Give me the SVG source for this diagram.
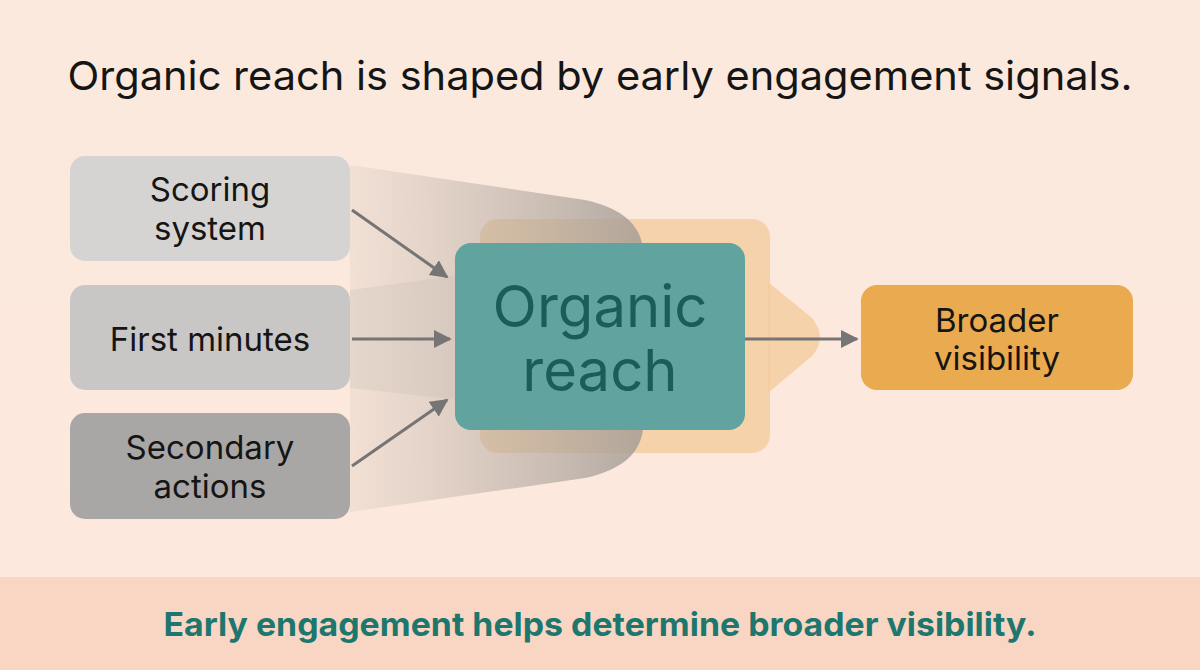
<svg xmlns="http://www.w3.org/2000/svg" width="1200" height="670" viewBox="0 0 1200 670">
<defs>
<linearGradient id="bg" x1="0" y1="0" x2="0" y2="1">
<stop offset="0" stop-color="#fbe9dd"/>
<stop offset="1" stop-color="#fde8dc"/>
</linearGradient>
<linearGradient id="funnel" x1="350" y1="0" x2="645" y2="0" gradientUnits="userSpaceOnUse">
<stop offset="0" stop-color="#b8aea6" stop-opacity="0.15"/>
<stop offset="1" stop-color="#a59d96" stop-opacity="0.85"/>
</linearGradient>
<linearGradient id="band" x1="350" y1="0" x2="460" y2="0" gradientUnits="userSpaceOnUse">
<stop offset="0" stop-color="#c9c1ba" stop-opacity="0.5"/>
<stop offset="1" stop-color="#b9b0a8" stop-opacity="0.3"/>
</linearGradient>
<marker id="ah" viewBox="0 0 10 10" refX="9" refY="5" markerWidth="6" markerHeight="6" markerUnits="strokeWidth" orient="auto">
<path d="M0,0 L10,5 L0,10 Z" fill="#767474"/>
</marker>
<style>
.lbl{font-family:Inter,"Noto Sans","Liberation Sans",sans-serif;fill:#151515;text-anchor:middle}
.conn{stroke:#767474;stroke-width:3;fill:none;marker-end:url(#ah)}
</style>
</defs>
<rect x="0" y="0" width="1200" height="670" fill="url(#bg)"/>
<rect x="0" y="577" width="1200" height="93" fill="#f8d6c3"/>
<text x="600" y="90" class="lbl" font-size="40" textLength="1065" lengthAdjust="spacingAndGlyphs">Organic reach is shaped by early engagement signals.</text>

<g id="backdrop">
<rect x="480" y="219" width="290" height="234" rx="18" fill="#f4cc9f" opacity="0.8"/>
<path d="M768,282 L812,318 Q828,338 812,356 L768,393 Z" fill="#f4cc9f" opacity="0.8"/>
<path d="M350,165 L585,200 Q640,212 643,250 L643,428 Q640,466 585,478 L350,512 Z" fill="url(#funnel)"/>
<path d="M350,290 L460,275 L460,400 L350,388 Z" fill="url(#band)" opacity="0.6"/>
</g>

<g id="connectors">
<line class="conn" x1="352" y1="210" x2="447" y2="277"/>
<line class="conn" x1="352" y1="339" x2="450" y2="339"/>
<line class="conn" x1="352" y1="466" x2="447" y2="400"/>
<line class="conn" x1="745" y1="339" x2="857" y2="339"/>
</g>

<g id="scoring-system">
<rect x="70" y="156" width="280" height="105" rx="15" fill="#d6d4d2"/>
<text x="210" y="201" class="lbl" font-size="33">Scoring</text>
<text x="210" y="240" class="lbl" font-size="33">system</text>
</g>
<g id="first-minutes">
<rect x="70" y="285" width="280" height="105" rx="15" fill="#c9c7c5"/>
<text x="210" y="351" class="lbl" font-size="33">First minutes</text>
</g>
<g id="secondary-actions">
<rect x="70" y="413" width="280" height="106" rx="15" fill="#a9a7a5"/>
<text x="210" y="459" class="lbl" font-size="33">Secondary</text>
<text x="210" y="498" class="lbl" font-size="33">actions</text>
</g>
<g id="organic-reach">
<rect x="455" y="243" width="290" height="187" rx="16" fill="#60a39f"/>
<text x="600" y="327" class="lbl" font-size="58" style="fill:#1b5d59">Organic</text>
<text x="600" y="391" class="lbl" font-size="58" style="fill:#1b5d59">reach</text>
</g>
<g id="broader-visibility">
<rect x="861" y="285" width="272" height="105" rx="16" fill="#e9aa50"/>
<text x="997" y="332" class="lbl" font-size="33">Broader</text>
<text x="997" y="370" class="lbl" font-size="33">visibility</text>
</g>
<text x="600" y="636" class="lbl" font-size="33" font-weight="700" textLength="873" lengthAdjust="spacingAndGlyphs" style="fill:#1e776e">Early engagement helps determine broader visibility.</text>
</svg>
